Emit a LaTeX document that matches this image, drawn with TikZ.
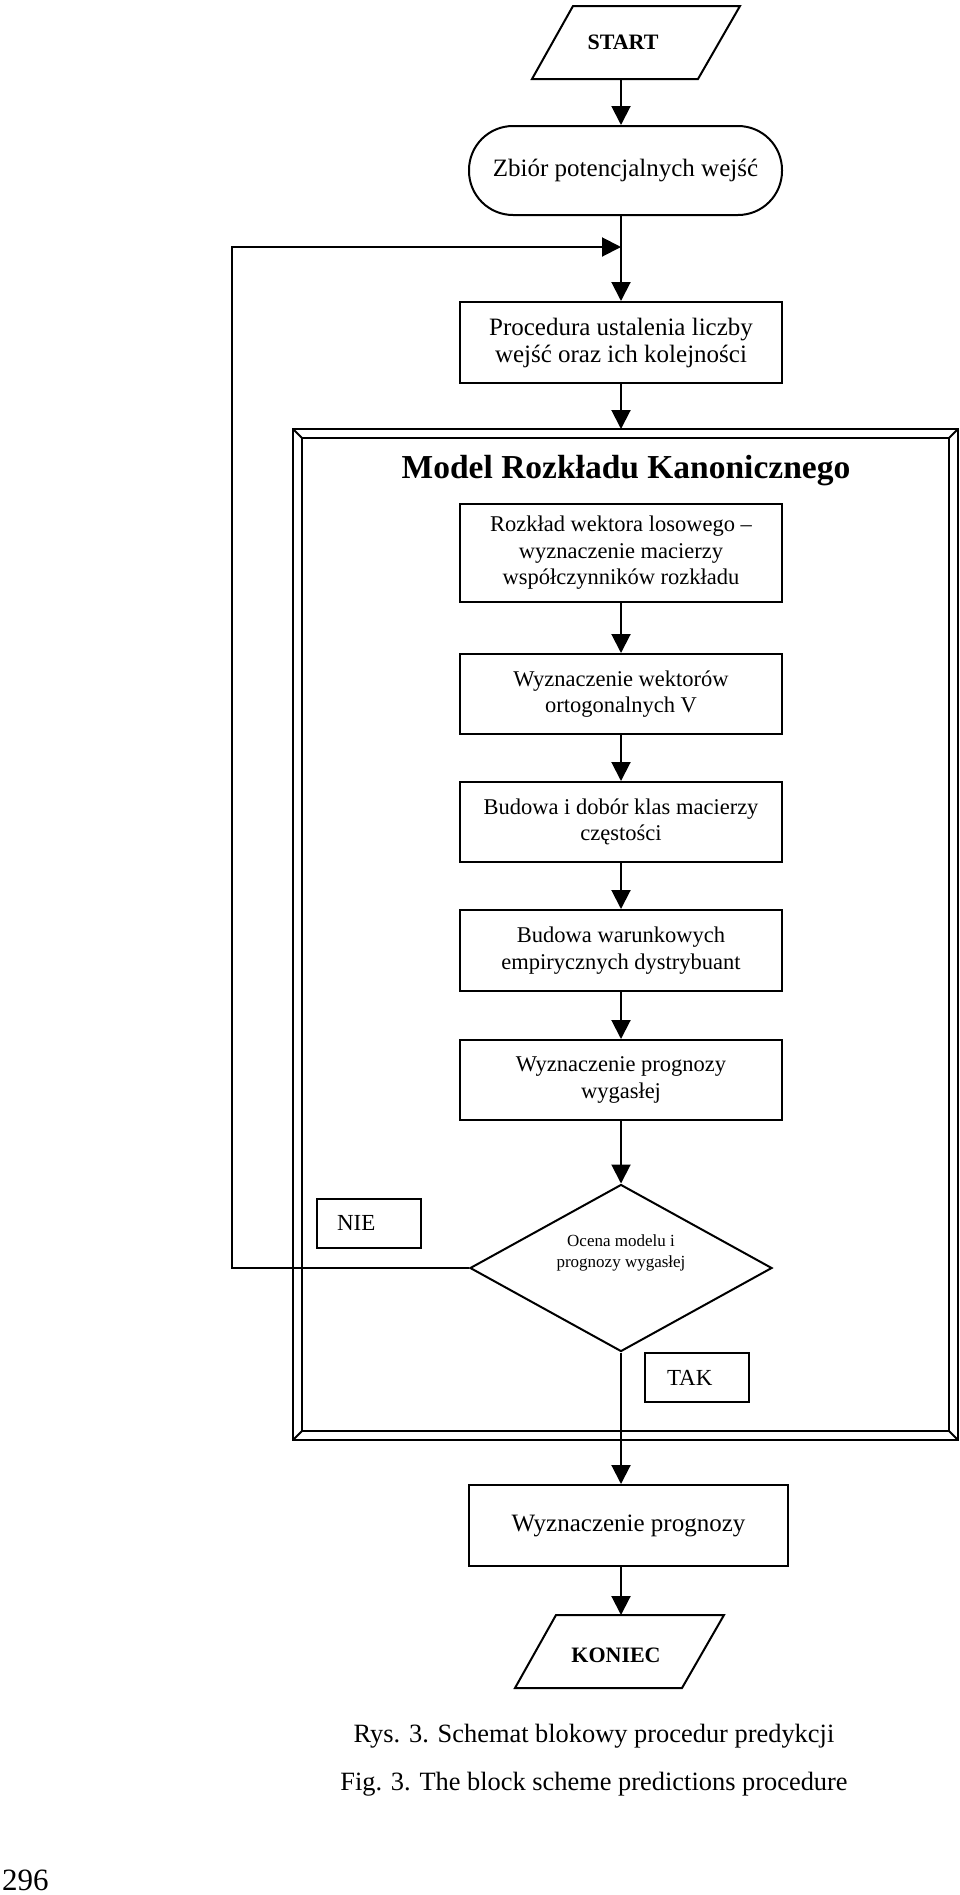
\documentclass[tikz,border=0pt]{standalone}
\usepackage{fontspec}
\setmainfont{Liberation Serif}
\usetikzlibrary{shapes.geometric,arrows.meta}

\tikzset{every picture/.style={line width=2pt}}
\tikzset{
  arr/.style={-{Triangle[length=19pt,width=19pt]}},
  blok/.style={draw, rectangle, minimum width=322pt, minimum height=80pt, inner sep=0pt, align=center, font=\fontsize{22.5}{26.6}\selectfont},
  blokduzy/.style={blok, font=\fontsize{25}{27}\selectfont},
  iotext/.style={font=\fontsize{22}{24}\selectfont\bfseries},
  decyzja/.style={draw, diamond, minimum width=302pt, minimum height=167pt, inner sep=0pt},
  etykieta/.style={draw, minimum height=49pt, inner ysep=0pt, align=left, font=\fontsize{23}{25}\selectfont},
  podpis/.style={font=\fontsize{26.4}{28}\selectfont}
}

\begin{document}
\begin{tikzpicture}[x=1pt,y=-1pt]
\useasboundingbox (0,0) rectangle (960,1895);

%Shape: Parallelogram
\draw (573,6) -- (740,6) -- (698,79) -- (532,79) -- cycle;
\coordinate (startdol) at (621,79);
% Text Node
\node[iotext] (start) at (623,42) {START};
%Shape: Rounded Rect
\node[blokduzy, rounded corners=44pt, minimum width=313pt, minimum height=89pt] (zbior) at (625.5,170.5) {Zbiór potencjalnych wejść};
%Shape: Rectangle
\node[blokduzy, minimum height=81pt] (proc) at (621,342.5) {Procedura ustalenia liczby\\wejść oraz ich kolejności};

%Shape: Frame
\draw (293,429) rectangle (958,1440);
\draw (302,438) rectangle (949,1431);
\draw (293,429) -- (302,438) (958,429) -- (949,438) (293,1440) -- (302,1431) (958,1440) -- (949,1431);
\coordinate (ramka) at (621,429);
% Text Node
\node[font=\fontsize{33.5}{36}\selectfont\bfseries] (tytul) at (626,471) {Model Rozkładu Kanonicznego};

%Shape: Rectangle
\node[blok, minimum height=98pt] (b1) at (621,553) {Rozkład wektora losowego –\\wyznaczenie macierzy\\współczynników rozkładu};
%Shape: Rectangle
\node[blok] (b2) at (621,694) {Wyznaczenie wektorów\\ortogonalnych V};
%Shape: Rectangle
\node[blok] (b3) at (621,822) {Budowa i dobór klas macierzy\\częstości};
%Shape: Rectangle
\node[blok, minimum height=81pt] (b4) at (621,950.5) {Budowa warunkowych\\empirycznych dystrybuant};
%Shape: Rectangle
\node[blok] (b5) at (621,1080) {Wyznaczenie prognozy\\wygasłej};
%Shape: Diamond
\node[decyzja] (ocena) at (621,1268) {};
% Text Node
\node[align=center, font=\fontsize{17}{21.7}\selectfont] (ocenatxt) at (621,1253) {Ocena modelu i\\prognozy wygasłej};

%Shape: Rectangle
\node[etykieta, text width=64pt, inner xsep=20pt] (nie) at (369,1223) {NIE};
%Shape: Rectangle
\node[etykieta, text width=60pt, inner xsep=22pt] (tak) at (697,1377.5) {TAK};

%Shape: Rectangle
\node[blokduzy, minimum width=319pt, minimum height=81pt] (prog) at (628.5,1525.5) {Wyznaczenie prognozy};
%Shape: Parallelogram
\draw (556,1615) -- (724,1615) -- (682,1688) -- (515,1688) -- cycle;
\coordinate (koniecgora) at (621,1615);
% Text Node
\node[iotext] (koniec) at (616,1655) {KONIEC};

%Straight Lines
\draw[arr] (startdol) -- (startdol |- zbior.north);
\draw (zbior.south -| proc) -- (proc |- 0,247);
\coordinate (powrot) at (proc |- 0,247);
\draw[arr] (powrot) -- (proc.north);
\draw[arr] (proc.south) -- (ramka);
\draw[arr] (b1) -- (b2);
\draw[arr] (b2) -- (b3);
\draw[arr] (b3) -- (b4);
\draw[arr] (b4) -- (b5);
\draw[arr] (b5) -- (ocena);
\draw[arr] (ocena.west) -- (232,1268) -- (232,247) -- (powrot);
\draw[arr] (ocena.south) -- (ocena.south |- prog.north);
\draw[arr] (koniecgora |- prog.south) -- (koniecgora);

% Text Node
\node[podpis] (rys) at (594,1736) {Rys. 3. Schemat blokowy procedur predykcji};
% Text Node
\node[podpis] (fig) at (594,1784) {Fig. 3. The block scheme predictions procedure};
% Text Node
\node[font=\fontsize{31}{33}\selectfont, anchor=west, inner sep=0pt] (strona) at (1,1880) {296};

\end{tikzpicture}
\end{document}
